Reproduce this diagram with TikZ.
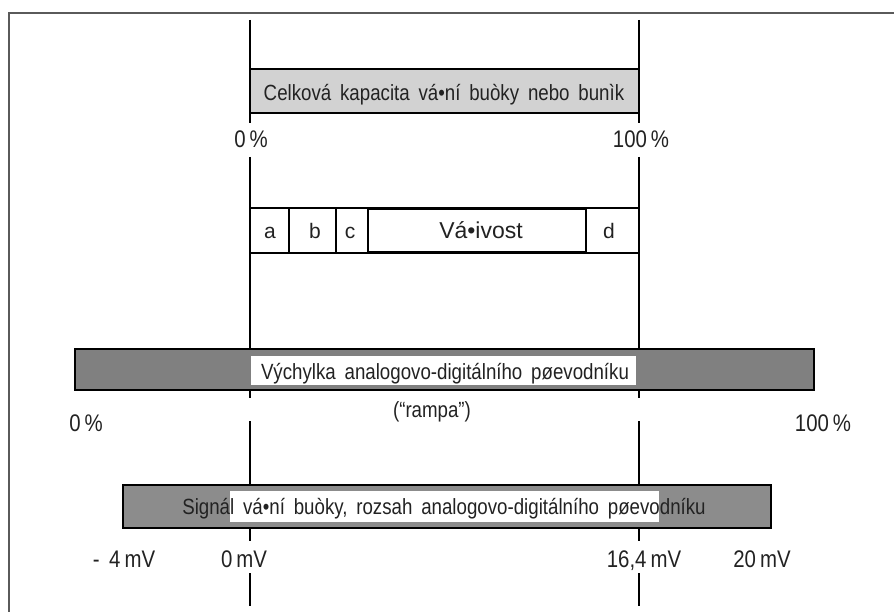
\documentclass[tikz,border=0pt]{standalone}
\usepackage{fontspec}
\setmainfont{Liberation Sans}
\newfontfamily\narrowsans[FakeStretch=0.85,WordSpace=1.7]{Liberation Sans}
\usetikzlibrary{positioning}
\usepackage{xcolor}
\definecolor{capgray}{HTML}{D2D2D2}
\definecolor{rampgray}{HTML}{808080}
\definecolor{signalgray}{HTML}{8C8C8C}
\definecolor{framegray}{HTML}{5A5A5A}
\definecolor{inkdark}{HTML}{222222}

\begin{document}
\begin{tikzpicture}[x=1pt, y=-1pt,
  boxtext/.style={font=\narrowsans\fontsize{22}{26}\selectfont, text=inkdark, inner sep=0pt, anchor=base},
  celltext/.style={font=\fontsize{21}{25}\selectfont, text=inkdark, inner sep=0pt, anchor=base},
  scaletext/.style={font=\narrowsans\fontsize{24}{28}\selectfont, text=inkdark, inner sep=0pt, anchor=base}]

  \useasboundingbox (0,0) rectangle (894,612);

  % Frame
  \draw[framegray, line width=2pt] (9,612) -- (9,13) -- (894,13);

  % Guide lines
  \foreach \x in {250,639} {
    \draw[line width=1.2pt] (\x,20) -- (\x,123);
    \draw[line width=1.2pt] (\x,157) -- (\x,398);
    \draw[line width=1.2pt] (\x,421) -- (\x,541);
    \draw[line width=1.2pt] (\x,573) -- (\x,606);
  }

  % Capacity box
  \draw[line width=1.2pt, fill=capgray] (250,69) rectangle (639,113);
  \node[boxtext] (capacity) at (444,101) {Celková kapacita vá•ní buòky nebo bunìk};
  \node[scaletext] (capzero) at (251,148) {0\,\%};
  \node[scaletext] (capfull) at (641,148) {100\,\%};

  % Cells
  \draw[line width=1.2pt] (250,208) rectangle (639,253);
  \draw[line width=1.2pt] (289,208) -- (289,253);
  \draw[line width=1.2pt] (336,208) -- (336,253);
  \draw[line width=2.4pt] (368,209) rectangle (586,252);
  \node[celltext] (cella) at (270,239) {a};
  \node[celltext] (cellb) at (315,239) {b};
  \node[celltext] (cellc) at (350,239) {c};
  \node[celltext, font=\fontsize{23}{27}\selectfont] (cellv) at (481,239) {Vá•ivost};
  \node[celltext] (celld) at (609,239) {d};

  % Ramp bar
  \draw[line width=1.2pt, fill=rampgray] (75,349) rectangle (814,390);
  \fill[white] (251,356) rectangle (636,385);
  \node[boxtext] (ramp) at (445,379) {Výchylka analogovo-digitálního pøevodníku};
  \node[boxtext] (rampnote) at (432,417) {(“rampa”)};
  \node[scaletext] (rampzero) at (86,431) {0\,\%};
  \node[scaletext] (rampfull) at (823,431) {100\,\%};

  % Signal bar
  \draw[line width=1.2pt, fill=signalgray] (123,485) rectangle (771,528);
  \fill[white] (230,491) rectangle (659,522);
  \node[boxtext] (signal) at (444,514) {Signál vá•ní buòky, rozsah analogovo-digitálního pøevodníku};
  \node[scaletext] (mvneg) at (124,567) {- 4\,mV};
  \node[scaletext] (mvzero) at (244,567) {0\,mV};
  \node[scaletext] (mvrange) at (644,567) {16,4\,mV};
  \node[scaletext] (mvmax) at (762,567) {20\,mV};
\end{tikzpicture}
\end{document}
